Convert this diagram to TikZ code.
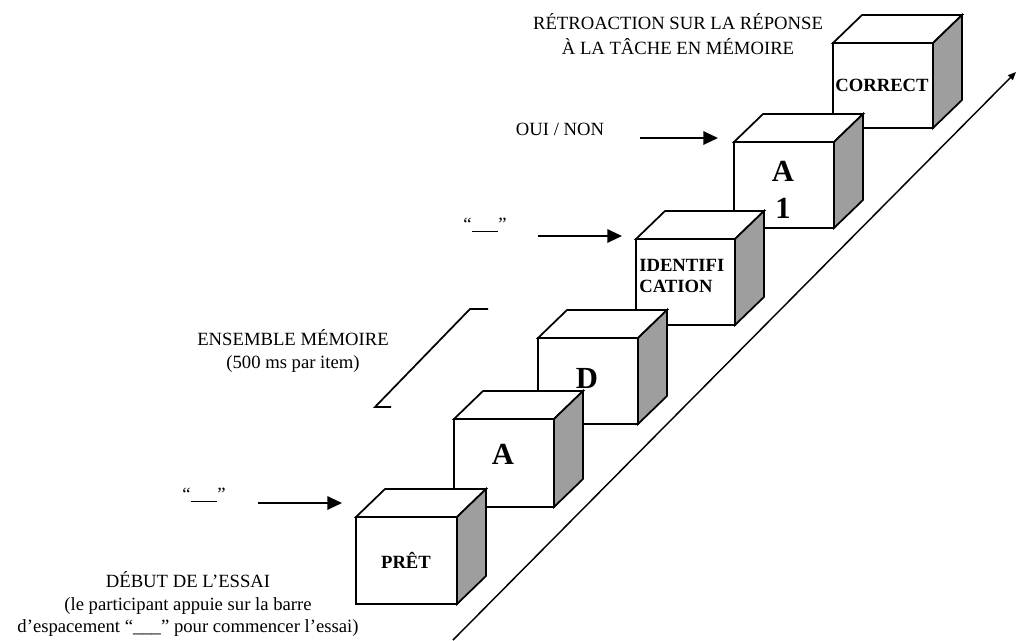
\documentclass[tikz,border=0pt]{standalone}
\usepackage{fontspec}
\setmainfont{Liberation Serif}
\usetikzlibrary{arrows.meta}

% One cube of the staircase: name, then the corners (x1,y1) and (x2,y2) of its front face.
\newcommand\drawstepcube[5]{%
  \filldraw[cubeface] (#2,#3) -- ++(29,-28) -- (#4+29,#3-28) -- (#4,#3) -- cycle;
  \filldraw[cubeside] (#4,#3) -- (#4+29,#3-28) -- (#4+29,#5-28) -- (#4,#5) -- cycle;
  \filldraw[cubeface] (#2,#3) rectangle (#4,#5);
  \coordinate (#1) at ({(#2+#4)/2},{(#3+#5)/2});
}

\begin{document}
\begin{tikzpicture}[x=0.75pt,y=-0.75pt,
  line join=miter,
  cubeface/.style={draw=black, fill=white, line width=1.3pt},
  cubeside/.style={draw=black, fill=black!38, line width=1.3pt},
  lbl/.style={font=\fontsize{14}{17}\selectfont, align=center, inner sep=0pt},
  cubetxt/.style={font=\fontsize{14}{16}\selectfont\bfseries, inner sep=0pt},
  bigtxt/.style={font=\fontsize{23}{28}\selectfont\bfseries, inner sep=0pt, align=center},
  pointer/.style={-{Triangle[length=11pt,width=10pt]}, line width=1.5pt},
  ramp/.style={-{Triangle[length=6pt,width=5pt]}, line width=1.1pt},
  bracket/.style={line width=1.3pt},
]
\useasboundingbox (0,0) rectangle (1018,640);

% rising ramp under the cubes
\coordinate (rampStart) at (453,640);
\coordinate (rampEnd) at (1016,72);
\draw[ramp] (rampStart) -- (rampEnd);

% cubes, from the back (top) to the front (bottom)
\drawstepcube{correctCube}{833}{43}{933}{128}
\drawstepcube{aoneCube}{734}{142}{834}{228}
\drawstepcube{identCube}{636}{239}{735}{325}
\drawstepcube{dCube}{538}{338}{638}{424}
\drawstepcube{aCube}{454}{419}{554}{507}
\drawstepcube{pretCube}{356}{517}{457}{604}

% cube labels
\node[cubetxt] (pretL) at (406,560) {PRÊT};
\node[bigtxt] (aL) at (503,454) {A};
\node[bigtxt] (dL) at (587,378) {D};
\node[cubetxt, align=left, anchor=west] (identL) at (639,276) {IDENTIFI\\CATION};
\node[bigtxt] (aoneL) at (783,190) {A\\1};
\node[cubetxt] (correctL) at (882,85) {CORRECT};

% captions
\node[lbl, font=\fontsize{14}{19}\selectfont] (feedback) at (678,34) {RÉTROACTION SUR LA RÉPONSE\\À LA TÂCHE EN MÉMOIRE};
\node[lbl] (ouinon) at (560,129) {OUI / NON};
\node[lbl] (memset) at (293,351) {ENSEMBLE MÉMOIRE\\(500 ms par item)};
\node[lbl] (debut) at (188,604) {DÉBUT DE L’ESSAI\\(le participant appuie sur la barre\\d’espacement “\_\_\_” pour commencer l’essai)};
\node[lbl, anchor=base] (blankHigh) at (485,230) {“\rule[-1.2pt]{20pt}{0.7pt}”};
\node[lbl, anchor=base] (blankLow) at (204,500) {“\rule[-1.2pt]{20pt}{0.7pt}”};

% response arrows
\coordinate (ptrLowS) at (258,503);
\coordinate (ptrLowE) at (342,503);
\coordinate (ptrHighS) at (538,236);
\coordinate (ptrHighE) at (622,236);
\coordinate (ptrOuiS) at (640,138);
\coordinate (ptrOuiE) at (718,138);
\draw[pointer] (ptrLowS) -- (ptrLowE);
\draw[pointer] (ptrHighS) -- (ptrHighE);
\draw[pointer] (ptrOuiS) -- (ptrOuiE);

% bracket grouping the memory set
\coordinate (brTopR) at (488,309);
\coordinate (brTopL) at (470,309);
\coordinate (brBotL) at (375,407);
\coordinate (brBotR) at (391,407);
\draw[bracket] (brTopR) -- (brTopL) -- (brBotL) -- (brBotR);
\end{tikzpicture}
\end{document}
